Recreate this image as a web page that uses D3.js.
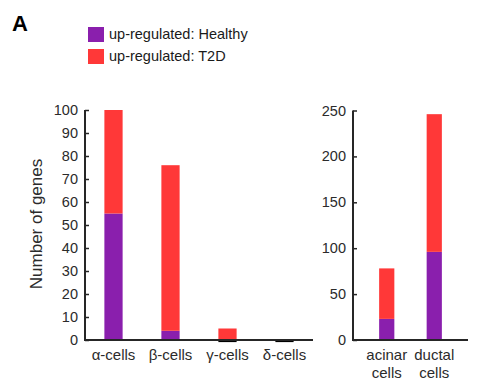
<!DOCTYPE html>
<html>
<head>
<meta charset="utf-8">
<script src="https://cdn.jsdelivr.net/npm/d3@7"></script>
<style>
  html, body { margin: 0; padding: 0; background: #fff; }
  svg { display: block; font-family: "Liberation Sans", Arial, Helvetica, sans-serif; }
</style>
</head>
<body>
<svg id="chart" width="496" height="381"></svg>
<script>
// Endocrine cell types (left panel)
const endoCategories = ["α-cells", "β-cells", "γ-cells", "δ-cells"];
const endoHealthy = [55, 4, 0, 0];
const endoT2D = [45, 72, 5, 0];
const endoTicks = [0, 10, 20, 30, 40, 50, 60, 70, 80, 90, 100];

// Exocrine cell types (right panel)
const exoCategories = [["acinar", "cells"], ["ductal", "cells"]];
const exoHealthy = [23, 96];
const exoT2D = [55, 150];
const exoTicks = [0, 50, 100, 150, 200, 250];

const seriesNames = ["up-regulated: Healthy", "up-regulated: T2D"];
const seriesColors = ["#8a1fad", "#ff3838"];

const axisColor = "#262626";
const textColor = "#2b2b2b";

const svg = d3.select("#chart");

// Panel letter
svg.append("text")
  .attr("x", 12).attr("y", 30.5)
  .attr("font-size", 22).attr("font-weight", "bold")
  .attr("fill", "#000")
  .text("A");

// Legend
const legend = svg.append("g").attr("transform", "translate(88,27)");
seriesNames.forEach((name, i) => {
  const g = legend.append("g").attr("transform", `translate(0,${i * 22})`);
  g.append("rect").attr("width", 16).attr("height", 15).attr("fill", seriesColors[i]);
  g.append("text").attr("x", 21).attr("y", 12)
    .attr("font-size", 14.5).attr("fill", "#1a1a1a").text(name);
});

function drawPanel(opts) {
  const { categories, healthy, t2d, ticks, yMax, x0, x1, yTop, yBottom, bandPad, tickLabelGap } = opts;
  const labels = categories.map(c => Array.isArray(c) ? c.join(" ") : c);
  const x = d3.scaleBand().domain(labels).range([x0, x1]).paddingInner(bandPad.inner).paddingOuter(bandPad.outer);
  const y = d3.scaleLinear().domain([0, yMax]).range([yBottom, yTop]);

  const g = svg.append("g");

  const stacked = d3.stack().keys([0, 1])
    .value((d, k) => k === 0 ? d.h : d.t)(labels.map((l, i) => ({ l, h: healthy[i], t: t2d[i] })));

  stacked.forEach((layer, k) => {
    g.selectAll(null).data(layer).enter().append("rect")
      .attr("x", d => x(d.data.l))
      .attr("width", x.bandwidth())
      .attr("y", d => y(d[1]))
      .attr("height", d => y(d[0]) - y(d[1]))
      .attr("fill", seriesColors[k]);
  });

  // zero-height bars show up as a thin edge just under the baseline
  labels.forEach((l, i) => {
    if (healthy[i] === 0) {
      g.append("line")
        .attr("x1", x(l)).attr("x2", x(l) + x.bandwidth())
        .attr("y1", y(0) + 1.5).attr("y2", y(0) + 1.5)
        .attr("stroke", "#000").attr("stroke-width", 1.2);
    }
  });

  // Y axis (ticks pointing inward)
  const yAxis = d3.axisRight(y).tickValues(ticks).tickSize(4).tickFormat("");
  const ya = g.append("g").attr("transform", `translate(${x0},0)`).call(yAxis);
  ya.select(".domain").remove();
  ya.selectAll("line").attr("stroke", axisColor).attr("stroke-width", 1.5);
  g.selectAll(null).data(ticks).enter().append("text")
    .attr("x", x0 - tickLabelGap).attr("y", d => y(d) + 5)
    .attr("text-anchor", "end").attr("font-size", 14.5).attr("fill", textColor)
    .text(d => d);

  // Axis lines
  g.append("path")
    .attr("d", `M${x0},${yTop} V${yBottom} H${x1}`)
    .attr("fill", "none").attr("stroke", axisColor).attr("stroke-width", 2);

  // Category labels
  categories.forEach((c, i) => {
    const lines = Array.isArray(c) ? c : [c];
    const cx = x(labels[i]) + x.bandwidth() / 2;
    lines.forEach((ln, j) => {
      g.append("text")
        .attr("x", cx).attr("y", yBottom + 20 + j * 17.5)
        .attr("text-anchor", "middle").attr("font-size", 15).attr("fill", textColor)
        .text(ln);
    });
  });
  return { x, y };
}

drawPanel({
  categories: endoCategories, healthy: endoHealthy, t2d: endoT2D, ticks: endoTicks,
  yMax: 100, x0: 85, x1: 313, yTop: 110, yBottom: 340,
  bandPad: { inner: 0.68, outer: 0.34 }, tickLabelGap: 7
});

drawPanel({
  categories: exoCategories, healthy: exoHealthy, t2d: exoT2D, ticks: exoTicks,
  yMax: 250, x0: 353, x1: 468, yTop: 110.5, yBottom: 340,
  bandPad: { inner: 0.68, outer: 0.55 }, tickLabelGap: 7
});

// Y axis title
svg.append("text")
  .attr("transform", "translate(42,224) rotate(-90)")
  .attr("text-anchor", "middle").attr("font-size", 17).attr("fill", textColor)
  .text("Number of genes");
</script>
</body>
</html>
